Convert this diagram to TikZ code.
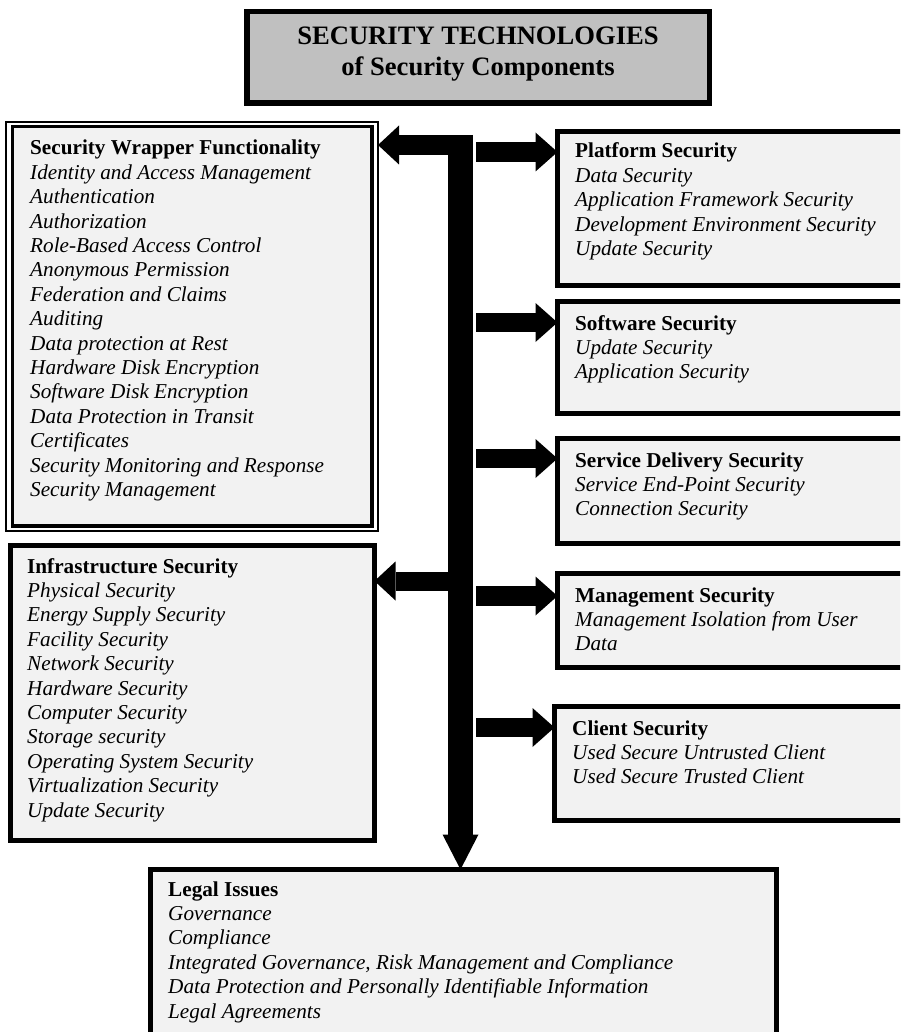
\documentclass[tikz,border=0pt]{standalone}
\usepackage{fontspec}
\setmainfont{Liberation Serif}
\usetikzlibrary{arrows.meta}
\definecolor{boxfill}{HTML}{F2F2F2}
\definecolor{titlefill}{HTML}{C0C0C0}
\newcommand{\bodysize}{\fontsize{21.2pt}{24.4pt}\selectfont}
\newcommand{\headsize}{\fontsize{26.6pt}{30.5pt}\selectfont}
\newcommand{\entry}[1]{\\\textit{#1}}
\tikzset{
  panel/.style={draw=black, fill=boxfill, line width=5pt, inner sep=0pt, outer sep=0pt, line join=miter},
  thinframe/.style={draw=black, line width=2pt, inner sep=0pt, outer sep=0pt},
  thickframe/.style={draw=black, fill=boxfill, line width=3.5pt, inner sep=0pt, outer sep=0pt},
  headpanel/.style={draw=black, fill=titlefill, line width=5.5pt, inner sep=0pt, outer sep=0pt},
  txt/.style={anchor=base west, inner sep=0pt, font=\bodysize},
  leftarrow/.style={line width=20pt, -{Triangle[length=21pt 0 0, width=39pt 0 0, line width=0pt 0 0]}},
  rightarrow/.style={line width=19.5pt, -{Triangle[length=22pt 0 0, width=39pt 0 0, line width=0pt 0 0]}},
  downarrow/.style={line width=25pt, -{Triangle[length=35pt 0 0, width=36pt 0 0, line width=0pt 0 0]}},
}
\begin{document}
\begin{tikzpicture}[x=1pt, y=-1pt]
\useasboundingbox (0,0) rectangle (900,1032);
\clip (0,0) rectangle (900,1032);

% heading
\node[headpanel, minimum width=462.5pt, minimum height=91.5pt] (head) at (478,57.5) {};
\node[anchor=base, inner sep=0pt, font=\headsize\bfseries] (headtxt) at (478,45)
  {\begin{tabular}[t]{@{}c@{}}SECURITY TECHNOLOGIES\\of Security Components\end{tabular}};

% left column
\node[thinframe, minimum width=372pt, minimum height=409pt] (wrapper) at (192,326.5) {};
\node[thickframe, minimum width=359.5pt, minimum height=399pt] (wrapperin) at (192,326.25) {};
\node[txt] (wrappertxt) at (30,155) {\begin{tabular}[t]{@{}l@{}}\textbf{Security Wrapper Functionality}%
  \entry{Identity and Access Management}\entry{Authentication}\entry{Authorization}%
  \entry{Role-Based Access Control}\entry{Anonymous Permission}\entry{Federation and Claims}%
  \entry{Auditing}\entry{Data protection at Rest}\entry{Hardware Disk Encryption}%
  \entry{Software Disk Encryption}\entry{Data Protection in Transit}\entry{Certificates}%
  \entry{Security Monitoring and Response}\entry{Security Management}\end{tabular}};

\node[panel, minimum width=364pt, minimum height=295pt] (infra) at (192.5,693) {};
\node[txt] (infratxt) at (27,573) {\begin{tabular}[t]{@{}l@{}}\textbf{Infrastructure Security}%
  \entry{Physical Security}\entry{Energy Supply Security}\entry{Facility Security}%
  \entry{Network Security}\entry{Hardware Security}\entry{Computer Security}%
  \entry{Storage security}\entry{Operating System Security}\entry{Virtualization Security}%
  \entry{Update Security}\end{tabular}};

% right column
\node[panel, minimum width=347.5pt, minimum height=154pt] (platform) at (731.25,208.5) {};
\node[txt] (platformtxt) at (575,158) {\begin{tabular}[t]{@{}l@{}}\textbf{Platform Security}%
  \entry{Data Security}\entry{Application Framework Security}%
  \entry{Development Environment Security}\entry{Update Security}\end{tabular}};

\node[panel, minimum width=347.5pt, minimum height=112pt] (software) at (731.25,357.5) {};
\node[txt] (softwaretxt) at (575,330) {\begin{tabular}[t]{@{}l@{}}\textbf{Software Security}%
  \entry{Update Security}\entry{Application Security}\end{tabular}};

\node[panel, minimum width=347.5pt, minimum height=105pt] (service) at (731.25,491) {};
\node[txt] (servicetxt) at (575,467) {\begin{tabular}[t]{@{}l@{}}\textbf{Service Delivery Security}%
  \entry{Service End-Point Security}\entry{Connection Security}\end{tabular}};

\node[panel, minimum width=347.5pt, minimum height=94pt] (management) at (731.25,620.5) {};
\node[txt] (managementtxt) at (575,602) {\begin{tabular}[t]{@{}l@{}}\textbf{Management Security}%
  \entry{Management Isolation from User}\entry{Data}\end{tabular}};

\node[panel, minimum width=350.5pt, minimum height=114pt] (client) at (729.75,763.5) {};
\node[txt] (clienttxt) at (572,735) {\begin{tabular}[t]{@{}l@{}}\textbf{Client Security}%
  \entry{Used Secure Untrusted Client}\entry{Used Secure Trusted Client}\end{tabular}};

% bottom
\node[panel, minimum width=626.5pt, minimum height=175.5pt] (legal) at (463.25,957.25) {};
\node[txt] (legaltxt) at (168,896) {\begin{tabular}[t]{@{}l@{}}\textbf{Legal Issues}%
  \entry{Governance}\entry{Compliance}%
  \entry{Integrated Governance, Risk Management and Compliance}%
  \entry{Data Protection and Personally Identifiable Information}%
  \entry{Legal Agreements}\end{tabular}};

% trunk and branches
\coordinate (trunktop) at (460.5,135);
\coordinate (lw) at (460.5,145);
\coordinate (li) at (460.5,581);
\coordinate (rp) at (476,152);
\coordinate (rs) at (476,322.5);
\coordinate (rd) at (476,458.5);
\coordinate (rm) at (476,596);
\coordinate (rc) at (476,727.5);

\draw[downarrow] (trunktop) -- (trunktop |- legal.north);
\draw[leftarrow] (lw) -- (lw -| wrapper.east);
\draw[leftarrow, line width=19pt] (li) -- (li -| infra.east);
\draw[rightarrow] (rp) -- (rp -| platform.west);
\draw[rightarrow] (rs) -- (rs -| software.west);
\draw[rightarrow] (rd) -- (rd -| service.west);
\draw[rightarrow] (rm) -- (rm -| management.west);
\draw[rightarrow] (rc) -- (rc -| client.west);
\end{tikzpicture}
\end{document}
